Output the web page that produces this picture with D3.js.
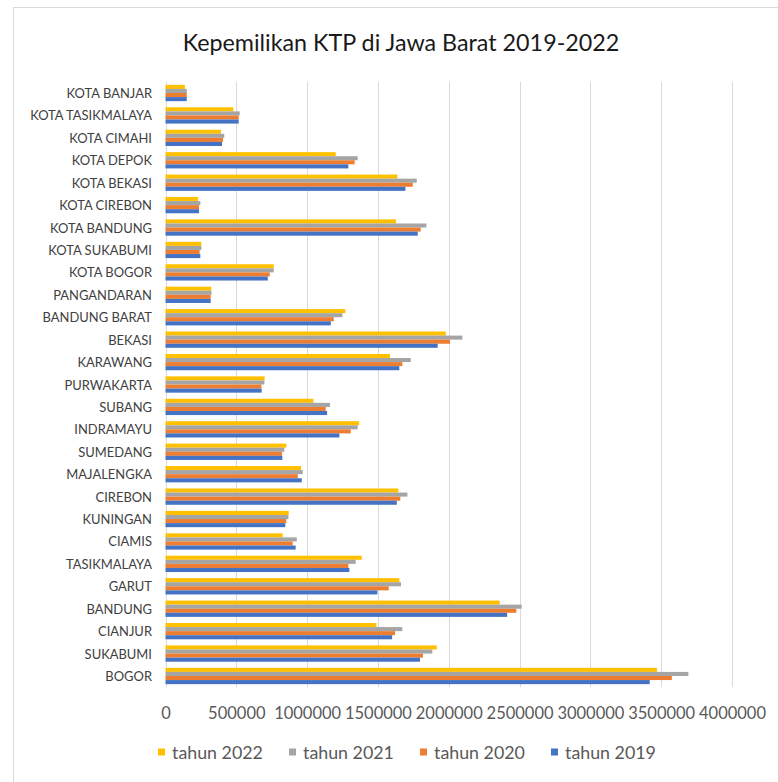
<!DOCTYPE html>
<html>
<head>
<meta charset="utf-8">
<script src="https://cdn.jsdelivr.net/npm/d3@7"></script>
<style>
  html, body { margin: 0; padding: 0; background: #fff; }
  svg { display: block; }
</style>
</head>
<body>
<svg id="chart" width="778" height="782"></svg>
<script>
// ---- data ----
const categories = ["BOGOR","SUKABUMI","CIANJUR","BANDUNG","GARUT","TASIKMALAYA","CIAMIS","KUNINGAN","CIREBON","MAJALENGKA","SUMEDANG","INDRAMAYU","SUBANG","PURWAKARTA","KARAWANG","BEKASI","BANDUNG BARAT","PANGANDARAN","KOTA BOGOR","KOTA SUKABUMI","KOTA BANDUNG","KOTA CIREBON","KOTA BEKASI","KOTA DEPOK","KOTA CIMAHI","KOTA TASIKMALAYA","KOTA BANJAR"];
const tahun2019 = [3419000,1797000,1600000,2412000,1496000,1298000,919000,846000,1633000,962000,825000,1228000,1141000,679000,1651000,1922000,1167000,319000,722000,246000,1781000,237000,1694000,1291000,399000,517000,150000];
const tahun2020 = [3575000,1818000,1621000,2477000,1576000,1291000,898000,853000,1658000,934000,823000,1308000,1131000,677000,1672000,2009000,1188000,319000,736000,241000,1802000,237000,1746000,1336000,406000,517000,150000];
const tahun2021 = [3692000,1884000,1672000,2515000,1663000,1343000,927000,868000,1708000,969000,839000,1357000,1162000,698000,1732000,2096000,1249000,325000,764000,253000,1842000,246000,1774000,1357000,415000,524000,150000];
const tahun2022 = [3471000,1915000,1489000,2360000,1651000,1386000,828000,870000,1644000,957000,853000,1367000,1044000,700000,1585000,1979000,1270000,323000,764000,253000,1628000,230000,1637000,1202000,392000,479000,137000];
const seriesNames = ["tahun 2022","tahun 2021","tahun 2020","tahun 2019"];
const seriesValues = [tahun2022, tahun2021, tahun2020, tahun2019];
const seriesColors = ["#FFC000","#A5A5A5","#ED7D31","#4472C4"];
const xTicks = [0,500000,1000000,1500000,2000000,2500000,3000000,3500000,4000000];
const title = "Kepemilikan KTP di Jawa Barat 2019-2022";

// ---- layout ----
const FONT = "Lato, 'Open Sans', sans-serif";
const plot = { left: 165.5, right: 732, top: 81.8, bottom: 687.2 };
const svg = d3.select("#chart");

// font-size fitting helper: pick size so a sample string has a target width
function fitSize(sample, targetW, weight) {
  const t = svg.append("text").attr("font-family", FONT).attr("font-size", 20)
    .attr("font-weight", weight || "normal").text(sample);
  const w = t.node().getComputedTextLength();
  t.remove();
  return 20 * targetW / w;
}
const titleSize = fitSize(title, 437);
const catSize = fitSize("KOTA TASIKMALAYA", 122);
const tickSize = fitSize("1000000", 67);
const legSize = fitSize("tahun 2022", 91);

// outer chart border (only top/left visible in the reference)
svg.append("rect").attr("x", 13.5).attr("y", 7.5).attr("width", 800).attr("height", 800)
  .attr("fill", "none").attr("stroke", "#D9D9D9").attr("stroke-width", 1);

// scales
const x = d3.scaleLinear().domain([0, 4000000]).range([plot.left, plot.right]);
const y = d3.scaleBand().domain(categories.slice().reverse()).range([plot.top, plot.bottom])
  .paddingInner(0.273).paddingOuter(0.1365);
const ySub = d3.scaleBand().domain(seriesNames).range([0, y.bandwidth()]).padding(0);

// gridlines
svg.append("g").selectAll("line").data(xTicks).join("line")
  .attr("x1", d => Math.round(x(d)) + 0.5).attr("x2", d => Math.round(x(d)) + 0.5)
  .attr("y1", plot.top).attr("y2", plot.bottom)
  .attr("stroke", "#D9D9D9").attr("stroke-width", 1);

// bars
const groups = svg.append("g").selectAll("g").data(categories).join("g")
  .attr("transform", d => `translate(0,${y(d)})`);
groups.selectAll("rect").data((d, i) => seriesNames.map((s, k) => ({ s, v: seriesValues[k][i], c: seriesColors[k] })))
  .join("rect")
  .attr("x", x(0))
  .attr("y", d => ySub(d.s))
  .attr("width", d => x(d.v) - x(0))
  .attr("height", ySub.bandwidth())
  .attr("fill", d => d.c);

// x axis (labels only)
const xAxis = d3.axisBottom(x).tickValues(xTicks).tickFormat(d3.format("d")).tickSize(0).tickPadding(0);
const gx = svg.append("g").attr("transform", `translate(0,${plot.bottom})`).call(xAxis);
gx.select(".domain").remove();
gx.selectAll("text").attr("font-family", FONT).attr("font-size", tickSize).attr("fill", "#595959")
  .attr("dy", null).attr("y", 713 - plot.bottom).attr("dominant-baseline", "central");

// y axis (labels only)
const yAxis = d3.axisLeft(y).tickSize(0).tickPadding(0);
const gy = svg.append("g").attr("transform", `translate(152,0)`).call(yAxis);
gy.select(".domain").remove();
gy.selectAll("text").attr("font-family", FONT).attr("font-size", catSize).attr("fill", "#404040")
  .attr("x", 0).attr("dy", null).attr("dominant-baseline", "central").attr("text-anchor", "end");

// title
svg.append("text").attr("x", 401).attr("y", 42).attr("text-anchor", "middle")
  .attr("dominant-baseline", "central")
  .attr("font-family", FONT).attr("font-size", titleSize).attr("fill", "#1a1a1a").text(title);

// legend
const legend = svg.append("g").selectAll("g").data(seriesNames).join("g")
  .attr("transform", (d, i) => `translate(${158 + i * 131},752)`);
legend.append("rect").attr("x", 0).attr("y", -3.5).attr("width", 7).attr("height", 7)
  .attr("fill", (d, i) => seriesColors[i]);
legend.append("text").attr("x", 14).attr("y", 0).attr("dominant-baseline", "central")
  .attr("font-family", FONT).attr("font-size", legSize).attr("fill", "#595959").text(d => d);
</script>
</body>
</html>
